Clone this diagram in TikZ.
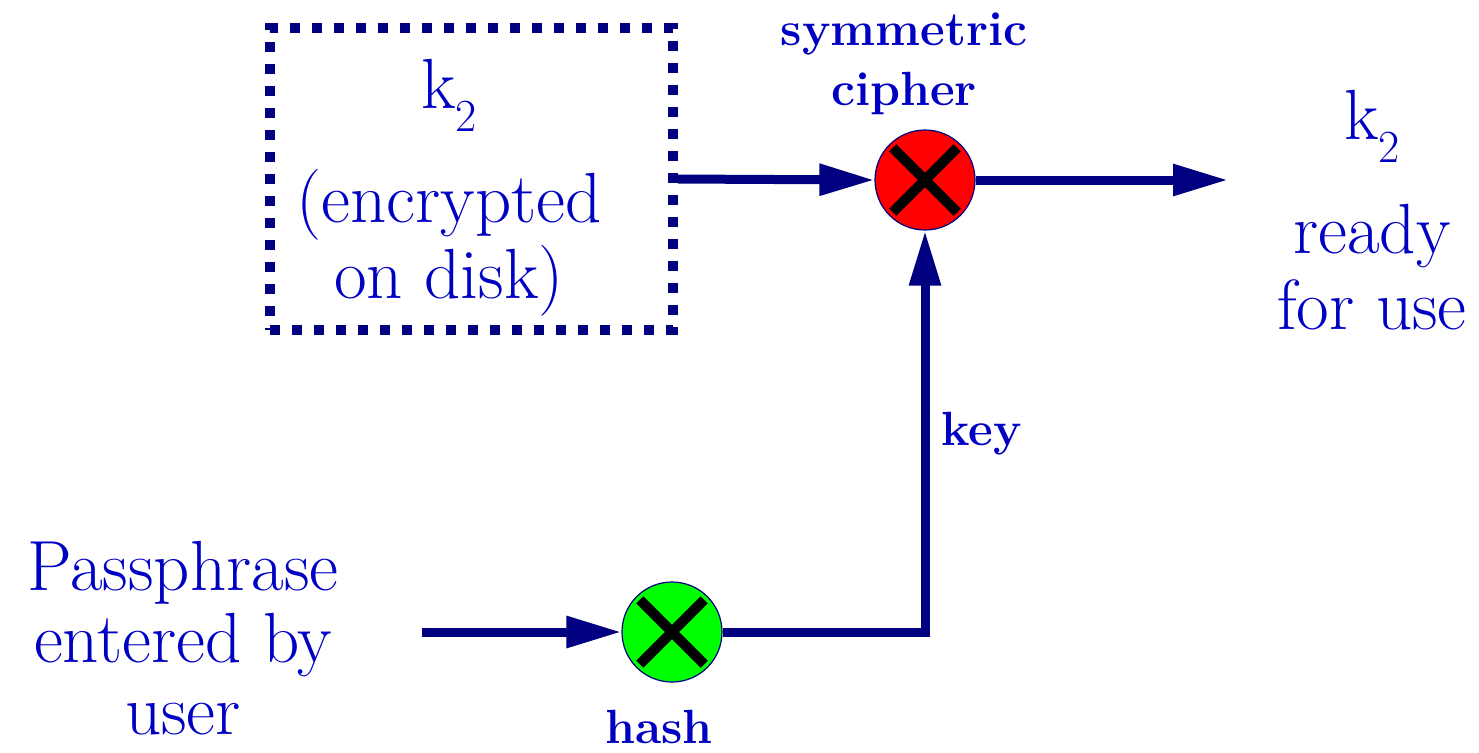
\documentclass[tikz,border=0pt]{standalone}
\usepackage{fontspec}
\usetikzlibrary{arrows.meta}
\definecolor{navy}{RGB}{0,0,128}
\definecolor{txtblue}{RGB}{0,0,195}
\definecolor{hashgreen}{RGB}{0,255,0}
\definecolor{ciphred}{RGB}{255,0,0}
\newcommand{\kk}{k\raisebox{-0.32em}{\fontsize{23}{23}\selectfont 2}}
\begin{document}
\begin{tikzpicture}[x=0.5pt, y=-0.5pt,
		txt/.style={text=txtblue, align=center, inner sep=0pt, font=\fontsize{35.5}{38}\selectfont},
		lbl/.style={text=txtblue, align=center, inner sep=0pt, font=\fontsize{24}{30}\selectfont\bfseries},
		op/.style={circle, draw=navy, line width=0.6pt, minimum size=50pt, inner sep=0pt},
		dotbox/.style={draw=navy, line width=5pt, dash pattern=on 5pt off 6pt, minimum width=201.5pt, minimum height=151pt, inner sep=0pt},
		conn/.style={draw=navy, line width=4.5pt, -{Triangle[length=27.5pt, width=15pt]}}]
		    \useasboundingbox (0,0) rectangle (1479,752);
		    \node[dotbox] (disk) at (471.5,179) {};
		    \node[txt] at (449,188) {\kk\\[19pt](encrypted\\on disk)};
		    \node[op, fill=ciphred] (cipher) at (925,180) {};
		    \node[op, fill=hashgreen] (hash) at (672,632) {};
		    \node[lbl] at (904,64) {symmetric\\cipher};
		    \node[lbl] at (659,727) {hash};
		    \node[lbl] at (982,434) {key};
		    \node[txt, font=\fontsize{35.5}{36}\selectfont] (pass) at (183,638) {Passphrase\\entered by\\user};
		    \node[txt] (ready) at (1372,210) {\kk\\[19pt]ready\\for use};
		    \coordinate (in) at (422,632);
		    \coordinate (out) at (1228,180);

		    \foreach \op in {cipher, hash} {
		       \draw[black, line width=5pt, shorten <=2.5pt, shorten >=2.5pt] (\op.45) -- (\op.225);
		       \draw[black, line width=5pt, shorten <=2.5pt, shorten >=2.5pt] (\op.135) -- (\op.315);
		       }
		    \draw[conn] (disk.east) -- (cipher.west);
		    \draw[conn] (cipher.east) -- (out);
		    \draw[conn] (in) -- (hash.west);
		    \draw[conn] (hash.east) -| (cipher.south);
\end{tikzpicture}
\end{document}
